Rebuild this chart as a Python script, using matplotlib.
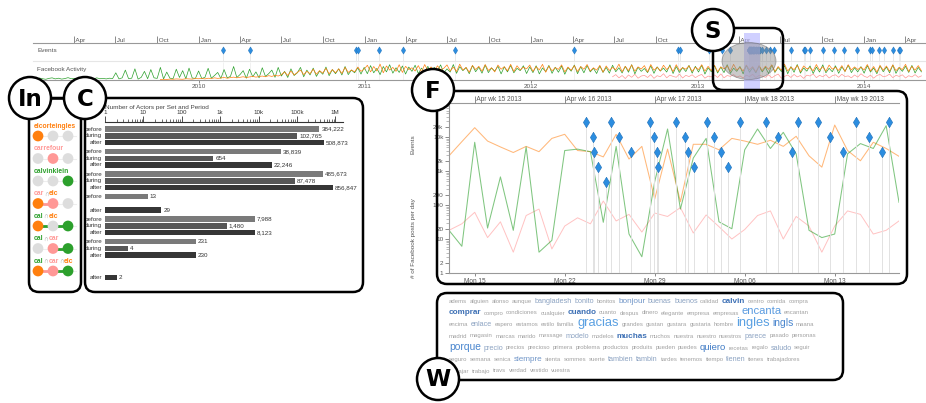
import numpy as np
import pandas as pd
import matplotlib.pyplot as plt
import matplotlib.dates as mdates
from matplotlib.patches import FancyBboxPatch, Circle, Ellipse
from matplotlib.path import Path
from matplotlib.ticker import FixedLocator, LogLocator, NullFormatter, FuncFormatter

plt.rcParams['font.family'] = ['Liberation Sans', 'DejaVu Sans']

W, H = 926, 403
nan = np.nan

ORANGE = '#ff7f0e'
PINK = '#ff9896'
GREEN = '#2ca02c'
BLUE = '#2b8de0'
TXT = '#555555'

# ---------------- overview timeline: weekly activity (relative) ----------------
green_act = [8, 5, 11, 7, 4, 9, 12, 6, 10, 5, 8, 13, 7, 9, 4, 11, 6, 10, 8, 5, 12, 7, 9, 6, 10, 8,
             40, 6, 12, 55, 8, 10, 62, 5, 15, 48, 7, 58, 12, 9, 70, 6, 44, 10, 8, 60, 14, 52, 7, 66, 11, 9,
             50, 8, 15, 65, 10, 25, 42, 9, 58, 12, 20, 75, 14, 30, 52, 10, 60, 18, 45, 12, 68, 20, 35, 55, 15, 70,
             22, 48, 14, 62, 25, 40, 70, 18, 55, 28, 66, 20, 50, 32, 72, 24, 58, 35, 62, 28, 75, 30, 55, 40, 68, 33,
             70, 35, 80, 40, 65, 30, 75, 45, 85, 38, 68, 42, 78, 33, 72, 48, 82, 36, 66, 44, 76, 31, 70, 50, 84, 39,
             62, 44, 86, 37, 74, 52, 69, 35, 80, 46, 71, 38, 83, 41, 67, 49, 77, 34, 73, 45, 81, 40, 65, 52, 79, 36,
             73, 41, 79, 34, 67, 47, 81, 37, 71, 43, 77, 32, 69, 49, 83, 35, 74, 40, 80, 45, 65, 36, 78, 42, 70, 38,
             82, 46, 68, 39, 76, 43, 85, 34, 71, 48, 64, 41, 79, 37, 73, 50, 66, 44, 84, 36, 75, 42, 69, 47, 81, 38,
             76, 44, 82, 33, 68, 46, 79, 39, 72, 41, 85, 37, 66, 48, 75, 34, 81, 43, 69, 40, 77, 45, 71, 36, 83, 42,
             70, 47, 80, 35, 74, 43, 86, 38, 67, 49, 78, 36, 72, 44, 84, 40, 65, 46, 79, 37, 73, 48, 82, 41, 68, 45,
             74, 38, 80, 44, 67, 35, 78, 46, 72, 40, 83, 37, 69, 48, 76, 42, 81, 39, 70, 45]
orange_act = [nan] * 40 + \
    [3, 4, 3, 5, 4, 6, 5, 4, 7, 6, 5, 8,
     7, 9, 6, 10, 8, 12, 9, 11, 14, 10, 13, 16, 12, 15, 18, 14, 17, 20, 16, 19, 22, 18, 24, 20, 26, 22,
     30, 45, 25, 50, 28, 42, 55, 30, 48, 35, 60, 32, 52, 38, 65, 34, 58, 40, 62, 36, 70, 42, 56, 45, 72, 48,
     60, 82, 45, 75, 50, 88, 40, 78, 55, 70, 48, 85, 42, 76, 58, 68, 50, 80, 44, 86, 52, 73, 46, 79, 57, 65,
     84, 50, 72, 47, 88, 55, 70, 43, 81, 58, 76, 49, 86, 53, 68, 45, 83, 60, 74, 51, 87, 47, 79, 56, 71, 62,
     83, 48, 74, 56, 87, 43, 77, 51, 69, 59, 84, 45, 72, 54, 80, 47, 75, 60, 86, 50, 68, 55, 81, 44, 78, 53,
     70, 57, 88, 46, 76, 52, 84, 49, 73, 61, 80, 45, 86, 54, 71, 50, 82, 58, 77, 47, 85, 53, 69, 60, 79, 48,
     71, 58, 85, 49, 76, 52, 82, 46, 73, 61, 79, 48, 87, 55, 70, 50, 83, 57, 74, 45, 80, 52, 77, 59, 84, 47,
     75, 54, 88, 50, 72, 57, 81, 46, 78, 62, 69, 51, 86, 55, 74, 49, 83, 60, 71, 53, 80, 47, 85, 56, 73, 58,
     72, 56, 86, 50, 75, 44, 81, 54, 78, 49, 84, 52, 70, 58, 87, 47, 76, 55, 80, 51]
pink_act = [nan] * 182 + \
    [18, 30, 12, 25, 8, 28, 15, 32, 10, 22, 26, 14, 30, 9, 24, 18, 35, 12, 27, 20,
     15, 33, 11, 26, 19, 29, 13, 24, 31, 10, 22, 17, 28, 14, 34, 12, 25, 20, 30, 16,
     23, 11, 27, 19, 32, 13, 26, 21, 15, 29, 12, 24, 33, 10, 20, 28, 14, 31, 17, 25,
     9, 27, 22, 34, 13, 26, 18, 30, 11, 24, 29, 15, 32, 19, 23, 12, 28, 16, 35, 21,
     14, 27, 10, 25, 31, 18, 22, 33, 13, 26, 20, 29, 11, 24, 17, 30, 15, 23]

early_events = ['2010-02-22', '2010-04-24', '2010-12-12', '2010-12-17', '2011-02-01',
                '2011-03-25', '2011-07-17', '2012-04-04', '2012-11-19', '2012-11-23',
                '2013-01-26', '2013-02-24', '2013-03-13']
late_events = ['2013-05-23', '2013-05-31', '2013-06-10', '2013-06-17', '2013-07-26',
               '2013-08-22', '2013-08-25', '2013-09-04', '2013-10-03', '2013-10-27',
               '2013-11-18', '2013-12-17', '2014-01-14', '2014-01-20', '2014-02-03',
               '2014-02-14', '2014-03-06', '2014-03-19', '2014-03-22']

# ---------------- focus period Apr 13 - May 18 2013 ----------------
orange_f = [2800, 7300, 18800, 7600, 5100, 3500, 5300, 3700, 9100, 12000,
            4000, 3700, 2600, 12000, 2250, 5300, 150, 4400, 125, 6100,
            6100, 4200, 9100, 7600, 6100, 8000, 5300, 10500, 2800, 1300,
            22500, 4000, 2000, 7000, 4600, 2700]
green_f = [18, 6.1, 7000, 21, 670, 18, 5100, 4.1, 9.1, 4000,
           4400, 3700, 31, 5300, 14, 3.0, 490, 17200, 76, 2400,
           9100, 32, 20, 4200, 17200, 4600, 13700, 3200, 18, 11,
           14, 3200, 6400, 4600, 21500, 120]
pink_f = [18, 28, 61, 11, 32, 4.1, 49, 76, 5.1, 24,
          42, 28, 131, 34, 53, 16, 58, 46, 84, 15,
          51, 23, 10, 19, 49, 67, 10, 46, 24, 4.1,
          24, 67, 53, 14, 18, 34]
f_event_times = ['2013-04-23 15:00', '2013-04-24 04:00', '2013-04-24 06:00', '2013-04-24 15:00',
                 '2013-04-25 05:00', '2013-04-25 15:00', '2013-04-26 06:00', '2013-04-27 03:00',
                 '2013-04-28 15:00', '2013-04-28 23:00', '2013-04-29 04:00', '2013-04-29 06:00',
                 '2013-04-30 15:00', '2013-05-01 08:00', '2013-05-01 15:00', '2013-05-02 01:00',
                 '2013-05-03 02:00', '2013-05-03 15:00', '2013-05-04 04:00', '2013-05-04 16:00',
                 '2013-05-05 15:00', '2013-05-07 16:00', '2013-05-08 15:00', '2013-05-09 16:00',
                 '2013-05-10 04:00', '2013-05-11 16:00', '2013-05-12 15:00', '2013-05-13 16:00',
                 '2013-05-14 16:00', '2013-05-15 16:00', '2013-05-16 16:00', '2013-05-17 05:00']
f_event_rows = [0, 1, 2, 3, 4, 0, 1, 2, 0, 1, 2, 3, 0, 1, 2, 3,
                0, 1, 2, 3, 0, 0, 1, 2, 0, 0, 1, 2, 0, 1, 2, 0]

# ---------------- sets and actor counts ----------------
set_names = ['elcorteingles', 'carrefour', 'calvinklein', 'car∩elc', 'cal∩elc', 'cal∩car', 'cal∩car∩elc']
membership = [[1, 0, 0], [0, 1, 0], [0, 0, 1], [1, 1, 0], [1, 0, 1], [0, 1, 1], [1, 1, 1]]
periods = ['before', 'during', 'after']
actors = [[384222, 102765, 508873],
          [38839, 654, 22246],
          [485673, 87478, 856847],
          [13, None, 29],
          [7988, 1480, 8123],
          [231, 4, 230],
          [None, None, 2]]

# ---------------- word cloud ----------------
cloud_lines = [
    ['adems', 'alguien', 'alonso', 'aunque', 'bangladesh', 'bonito', 'bonitos', 'bonjour', 'buenas',
     'buenos', 'calidad', 'calvin', 'centro', 'comida', 'compra'],
    ['comprar', 'compro', 'condiciones', 'cualquier', 'cuando', 'cuanto', 'despus', 'dinero',
     'elegante', 'empresa', 'empresas', 'encanta', 'encantan'],
    ['encima', 'enlace', 'espero', 'estamos', 'estilo', 'familia', 'gracias', 'grandes', 'gustan',
     'gustara', 'gustaria', 'hombre', 'ingles', 'ingls', 'maana'],
    ['madrid', 'magasin', 'marcas', 'marido', 'message', 'modelo', 'modelos', 'muchas', 'muchos',
     'nuestra', 'nuestro', 'nuestros', 'parece', 'pasado', 'personas'],
    ['porque', 'precio', 'precios', 'precioso', 'primera', 'problema', 'productos', 'produits',
     'pueden', 'puedes', 'quiero', 'recetas', 'regalo', 'saludo', 'seguir'],
    ['seguro', 'semana', 'senica', 'siempre', 'sienta', 'sommes', 'suerte', 'tambien', 'tambin',
     'tardes', 'tenemos', 'tiempo', 'tienen', 'tienes', 'trabajadores'],
    ['trabajar', 'trabajo', 'travs', 'verdad', 'vestido', 'vuestra'],
]
word_weight = {'bangladesh': 2, 'bonito': 2, 'bonjour': 3, 'buenas': 2, 'buenos': 2, 'calvin': 3,
               'comprar': 3, 'cuando': 3, 'encanta': 6, 'enlace': 2, 'gracias': 7, 'ingles': 7,
               'ingls': 5, 'modelo': 2, 'muchas': 3, 'parece': 2, 'porque': 5, 'precio': 2,
               'quiero': 4, 'saludo': 2, 'siempre': 3, 'tambien': 2, 'tambin': 2, 'tienen': 2}
bold_words = ['calvin', 'comprar', 'cuando', 'muchas']

# ======================================================================
fig = plt.figure(figsize=(W / 100, H / 100), dpi=100)


def px_axes(x0, y0, x1, y1, **kw):
    return fig.add_axes([x0 / W, 1 - y1 / H, (x1 - x0) / W, (y1 - y0) / H], **kw)


def ftext(x, y, s, **kw):
    return fig.text(x / W, 1 - y / H, s, **kw)


def kfmt(v, pos=None):
    if v >= 1e6:
        return f'{v / 1e6:g}M'
    if v >= 1e3:
        return f'{v / 1e3:g}k'
    return f'{v:g}'


diamond = Path([(0, 1), (0.6, 0), (0, -1), (-0.6, 0), (0, 1)])

# overlay in pixel units for panel frames and labels
ax_ov = fig.add_axes([0, 0, 1, 1], zorder=10)
ax_ov.set_xlim(0, W)
ax_ov.set_ylim(H, 0)
ax_ov.axis('off')

# ---------------- overview timeline ----------------
t0, t1 = pd.Timestamp('2009-01-01'), pd.Timestamp('2014-05-18')
act_dates = pd.date_range(t0, periods=len(green_act), freq='7D')
f_days = pd.date_range('2013-04-13', '2013-05-18', freq='D')
f_ev = pd.to_datetime(f_event_times, format='mixed')
all_events = pd.to_datetime(early_events + f_event_times + late_events, format='mixed')

ax_ev = px_axes(33, 43, W, 61)
ax_act = px_axes(33, 62, W, 80)
for a in (ax_ev, ax_act):
    a.set_xlim(t0, t1)
    a.patch.set_alpha(0)
    a.set_yticks([])
    for s in ('left', 'right'):
        a.spines[s].set_visible(False)

ax_ev.set_ylim(0, 1)
ax_ev.spines['top'].set_color('#999999')
ax_ev.spines['top'].set_linewidth(0.8)
ax_ev.spines['bottom'].set_color('#e6e6e6')
ax_ev.vlines(all_events, 0, 0.6, color='#e6e6e6', lw=0.6, zorder=1)
ax_ev.plot(all_events, [0.6] * len(all_events), ls='none', marker=diamond, ms=5.2,
           mfc=BLUE, mec='#1f70b8', mew=0.3, zorder=3)
quarters = pd.date_range('2009-04-01', '2014-04-01', freq='QS-JAN')
ax_ev.xaxis.set_major_locator(FixedLocator(mdates.date2num(quarters)))
ax_ev.xaxis.set_major_formatter(mdates.DateFormatter(' %b'))
ax_ev.tick_params(axis='x', top=True, bottom=False, labeltop=True, labelbottom=False,
                  direction='out', length=5, pad=-4.8, width=0.6, color='#777777',
                  labelsize=4.6, labelcolor=TXT)
for lab in ax_ev.get_xticklabels():
    lab.set_ha('left')

ax_act.set_ylim(0, 100)
ax_act.spines['top'].set_visible(False)
ax_act.spines['bottom'].set_color('#999999')
ax_act.spines['bottom'].set_linewidth(0.8)
ax_act.vlines(all_events, 0, 100, color='#ececec', lw=0.5, zorder=0)
ax_act.plot(act_dates[:len(pink_act)], pink_act, color=PINK, lw=0.5, zorder=2)
ax_act.plot(act_dates[:len(green_act)], green_act, color=GREEN, lw=0.5, zorder=2)
ax_act.plot(act_dates[:len(orange_act)], orange_act, color=ORANGE, lw=0.5, zorder=3)
years = pd.date_range('2010-01-01', '2014-01-01', freq='YS')
ax_act.xaxis.set_major_locator(FixedLocator(mdates.date2num(years)))
ax_act.xaxis.set_major_formatter(mdates.DateFormatter('%Y'))
ax_act.tick_params(axis='x', length=2, pad=1, width=0.6, color='#777777',
                   labelsize=4.6, labelcolor=TXT)

ftext(37, 51, 'Events', fontsize=4.6, color=TXT, va='center')
ftext(37, 70, 'Facebook Activity', fontsize=4.6, color=TXT, va='center')

# selection band + lens over the focus period
ax_band = px_axes(33, 33, W, 90, zorder=2)
ax_band.set_xlim(t0, t1)
ax_band.set_ylim(0, 1)
ax_band.axis('off')
ax_band.axvspan(f_days[0], f_days[-1], color='#b8b8ff', alpha=0.65, lw=0)
ax_band.add_patch(Ellipse((749, 61), 54, 37, transform=ax_ov.transData,
                          fc='#8a8a8a', ec='#555555', lw=0.6, alpha=0.45))

# ---------------- In: set membership ----------------
col_colors = [ORANGE, PINK, GREEN]
label_parts = [[('elcorteingles', ORANGE)], [('carrefour', PINK)], [('calvinklein', GREEN)],
               [('car', PINK), ('∩', '#aaaaaa'), ('elc', ORANGE)],
               [('cal', GREEN), ('∩', '#aaaaaa'), ('elc', ORANGE)],
               [('cal', GREEN), ('∩', '#aaaaaa'), ('car', PINK)],
               [('cal', GREEN), ('∩', '#aaaaaa'), ('car', PINK), ('∩', '#aaaaaa'), ('elc', ORANGE)]]

ax_in = px_axes(23, 113.5, 83, 293.5)
ax_in.set_xlim(-1, 3)
ax_in.set_ylim(len(set_names), -1)
ax_in.axis('off')
for r, row in enumerate(membership):
    ax_in.plot([0, 2.5], [r, r], color='#eeeeee', lw=0.8, zorder=0)
    idx = [c for c in range(3) if row[c]]
    for a, b in zip(idx[:-1], idx[1:]):
        ax_in.plot([a, b], [r, r], color=col_colors[b], lw=2, zorder=1, solid_capstyle='butt')
    ax_in.scatter(range(3), [r] * 3, s=60, zorder=3, lw=0,
                  c=[col_colors[c] if row[c] else '#dddddd' for c in range(3)])
    prev = None
    for txt, col in label_parts[r]:
        fw = 'normal' if txt == '∩' else 'bold'
        if prev is None:
            prev = ax_in.text(-0.27, r - 0.36, txt, color=col, fontsize=4.9, fontweight=fw,
                              va='baseline', ha='left')
        else:
            prev = ax_in.annotate(txt, xy=(1, r - 0.36), xycoords=(prev, ax_in.transData),
                                  color=col, fontsize=4.9, fontweight=fw, va='baseline', ha='left')

# ---------------- C: actors per set and period ----------------
bar_colors = ['#7a7a7a', '#575757', '#363636']
group_pitch = 3.36
ax_c = px_axes(105, 122, 343, 286)
ax_c.set_xscale('log')
ax_c.set_xlim(1, 10 ** 6.2)
ax_c.set_ylim(23.4, -1.05)
for g, vals in enumerate(actors):
    for p, v in enumerate(vals):
        if v is None:
            continue
        y = g * group_pitch + p
        ax_c.barh(y, v - 1, left=1, height=0.82, color=bar_colors[p], lw=0)
        ax_c.annotate(periods[p], (1, y), xytext=(-2, 0), textcoords='offset points',
                      ha='right', va='center', fontsize=4.5, color='#333333', annotation_clip=False)
        ax_c.annotate(f'{v:,}', (v, y), xytext=(1.5, 0), textcoords='offset points',
                      ha='left', va='center', fontsize=4.5, color='#333333', annotation_clip=False,
                      bbox=dict(fc='white', ec='none', pad=0.2))
for s in ('left', 'right', 'bottom'):
    ax_c.spines[s].set_visible(False)
ax_c.spines['top'].set_color('#333333')
ax_c.spines['top'].set_linewidth(0.8)
ax_c.set_yticks([])
ax_c.xaxis.set_ticks_position('top')
ax_c.xaxis.set_major_locator(FixedLocator([1, 10, 100, 1e3, 1e4, 1e5, 1e6]))
ax_c.xaxis.set_major_formatter(FuncFormatter(kfmt))
ax_c.xaxis.set_minor_locator(LogLocator(base=10, subs=np.arange(2, 10), numticks=20))
ax_c.xaxis.set_minor_formatter(NullFormatter())
ax_c.tick_params(axis='x', which='major', length=4, width=0.6, pad=1, labelsize=4.5,
                 labelcolor='#333333', color='#333333')
ax_c.tick_params(axis='x', which='minor', length=2.2, width=0.5, color='#333333')
ftext(105, 107.5, 'Number of Actors per Set and Period', fontsize=4.6, color='#444444', va='center')

# ---------------- F: focus period ----------------
ax_f = px_axes(449, 103, 899, 273)
ax_f.set_yscale('log')
ax_f.set_ylim(1, 1e5)
ax_f.set_xlim(f_days[0], f_days[-1])
ax_f.plot(f_days, pink_f, color='#ffb3b3', lw=0.7, alpha=0.8)
ax_f.plot(f_days, orange_f, color=ORANGE, lw=0.75, alpha=0.55)
ax_f.plot(f_days, green_f, color=GREEN, lw=0.75, alpha=0.6)
ax_f.spines['right'].set_visible(False)
for s in ('left', 'bottom', 'top'):
    ax_f.spines[s].set_color('#999999')
    ax_f.spines[s].set_linewidth(0.8)
ax_f.yaxis.set_major_locator(FixedLocator([1, 2, 10, 20, 100, 200, 1e3, 2e3, 1e4, 2e4]))
ax_f.yaxis.set_major_formatter(FuncFormatter(kfmt))
ax_f.yaxis.set_minor_locator(LogLocator(base=10, subs=np.arange(2, 10), numticks=20))
ax_f.yaxis.set_minor_formatter(NullFormatter())
ax_f.tick_params(axis='y', which='major', length=3, width=0.6, pad=1, labelsize=4.6,
                 labelcolor=TXT, color='#777777')
ax_f.tick_params(axis='y', which='minor', length=2, width=0.4, color='#888888')
mondays = pd.date_range('2013-04-15', '2013-05-13', freq='7D')
ax_f.xaxis.set_major_locator(FixedLocator(mdates.date2num(mondays)))
ax_f.xaxis.set_major_formatter(mdates.DateFormatter('%a %d'))
ax_f.tick_params(axis='x', length=2.5, width=0.6, pad=1, labelsize=4.7, labelcolor=TXT, color='#777777')

ax_ft = ax_f.twiny()
ax_ft.set_xlim(ax_f.get_xlim())
for s in ax_ft.spines.values():
    s.set_visible(False)
ax_ft.xaxis.set_major_locator(FixedLocator(mdates.date2num(mondays)))
ax_ft.xaxis.set_major_formatter(mdates.DateFormatter(' %b wk %W %Y'))
ax_ft.tick_params(axis='x', direction='out', length=5, pad=-4.8, width=0.6, color='#777777',
                  labelsize=4.7, labelcolor=TXT)
for lab in ax_ft.get_xticklabels():
    lab.set_ha('left')

ax_fe = px_axes(449, 103, 899, 273)
ax_fe.set_xlim(f_days[0], f_days[-1])
ax_fe.set_ylim(10.05, -1.29)
ax_fe.axis('off')
ax_fe.vlines(f_ev, f_event_rows, 10.05, color='#e2e2e2', lw=0.7, zorder=0)
ax_fe.plot(f_ev, f_event_rows, ls='none', marker=diamond, ms=7.5, mfc=BLUE,
           mec='#1f70b8', mew=0.4, zorder=3)

ftext(413, 144, 'Events', fontsize=4.6, color=TXT, rotation=90, ha='center', va='center')
ftext(413, 238, '# of Facebook posts per day', fontsize=4.6, color=TXT, rotation=90,
      ha='center', va='center')

# ---------------- W: word cloud ----------------
weight_size = {1: 4.3, 2: 5.2, 3: 5.9, 4: 6.8, 5: 7.4, 6: 8.1, 7: 9.3}
weight_color = {1: '#a2a2a2', 2: '#8ca3c2', 3: '#7196c8', 4: '#3f7ac4', 5: '#4a86ce',
                6: '#5a9be0', 7: '#5aa0e2'}
line_base = [303, 314.5, 326, 337.5, 349.5, 361, 372.5]
for base, words in zip(line_base, cloud_lines):
    prev = None
    for w in words:
        wt = word_weight.get(w, 1)
        bold = w in bold_words
        kw = dict(fontsize=weight_size[wt], color='#3d70b5' if bold else weight_color[wt],
                  fontweight='bold' if bold else 'normal', va='baseline', ha='left', zorder=4)
        if prev is None:
            prev = ax_ov.text(449, base, w, **kw)
        else:
            prev = ax_ov.annotate(w, xy=(1, base), xycoords=(prev, ax_ov.transData),
                                  xytext=(1.8, 0), textcoords='offset points', **kw)

# ---------------- panel frames and letter badges ----------------
frames = {'In': (29, 98, 81, 292), 'C': (85, 98, 363, 292), 'F': (437, 91, 907, 284),
          'S': (713, 28, 783, 90), 'W': (437, 293, 843, 380)}
badges = {'In': (30, 98), 'C': (85, 98), 'F': (433, 90), 'S': (713, 30), 'W': (438, 379)}
for x0, y0, x1, y1 in frames.values():
    ax_ov.add_patch(FancyBboxPatch((x0, y0), x1 - x0, y1 - y0,
                                   boxstyle='round,pad=0,rounding_size=10',
                                   fc='none', ec='black', lw=1.8, zorder=2))
ax_ov.plot([51, 64], [98, 98], color='black', lw=1.8, zorder=2)
for name, (cx, cy) in badges.items():
    ax_ov.add_patch(Circle((cx, cy), 21, fc='white', ec='black', lw=1.8, zorder=5))
    ax_ov.text(cx, cy + 1, name, ha='center', va='center', fontsize=16.5, fontweight='bold',
               family='DejaVu Sans', zorder=6)

fig.savefig('out.png', dpi=100)
